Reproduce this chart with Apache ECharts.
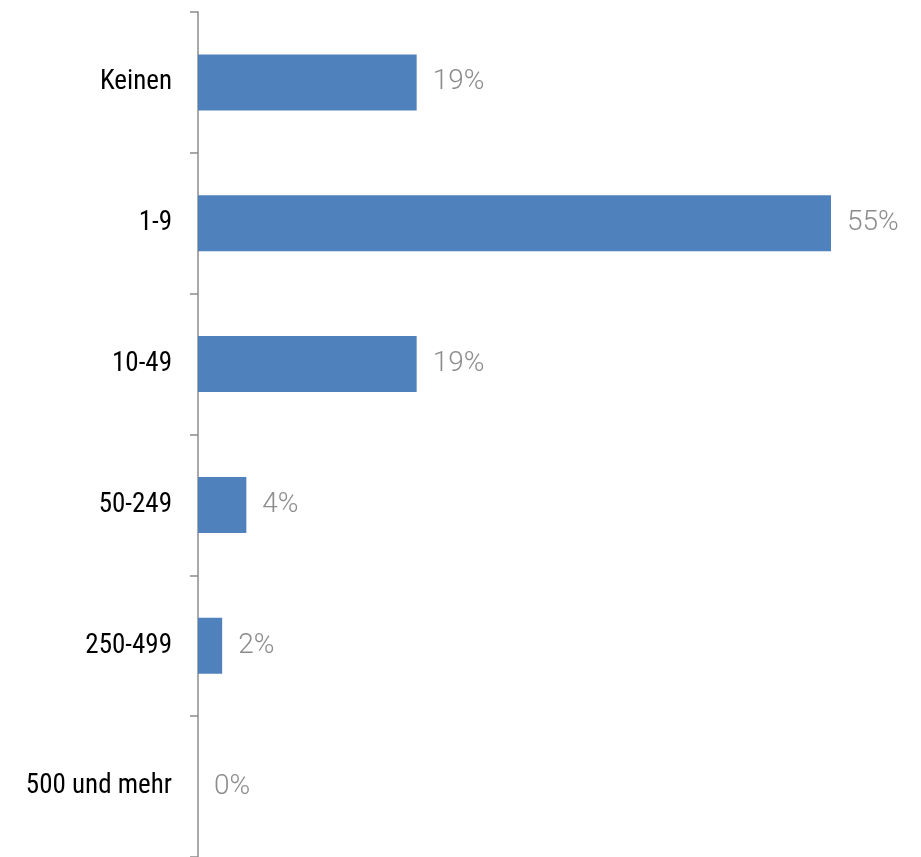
<!DOCTYPE html>
<html>
<head>
<meta charset="utf-8">
<script src="https://cdn.jsdelivr.net/npm/echarts@6/dist/echarts.min.js"></script>
<style>html,body{margin:0;padding:0;background:#fff}#c{width:921px;height:857px}</style>
</head>
<body>
<div id="c"></div>
<script>
const categories = ["Keinen", "1-9", "10-49", "50-249", "250-499", "500 und mehr"];
const values = [19, 55, 19, 4.2, 2.1, 0];
const labels = ["19%", "55%", "19%", "4%", "2%", "0%"];

const chart = echarts.init(document.getElementById('c'), null, {renderer: 'canvas'});
chart.setOption({
  animation: false,
  grid: {left: 198, right: 90, top: 12, height: 849, containLabel: false},
  xAxis: {
    type: 'value', min: 0, max: 55, show: false
  },
  yAxis: {
    type: 'category', data: categories, inverse: true,
    axisLine: {show: true, lineStyle: {color: '#8c8c8c', width: 1.5}},
    axisTick: {show: true, length: 8, lineStyle: {color: '#8c8c8c', width: 1.5}},
    axisLabel: {
      margin: 26, color: '#000',
      fontFamily: '"Roboto Condensed", "Liberation Sans Narrow", sans-serif',
      fontSize: 27
    },
    splitLine: {show: false}
  },
  series: [{
    type: 'bar', data: values, barWidth: 56,
    itemStyle: {color: '#4f81bd'},
    label: {
      show: true, position: 'right', distance: 16,
      formatter: p => labels[p.dataIndex],
      color: '#8c8c8c', fontFamily: 'Roboto', fontWeight: 300, fontSize: 28
    }
  }]
});
</script>
</body>
</html>
